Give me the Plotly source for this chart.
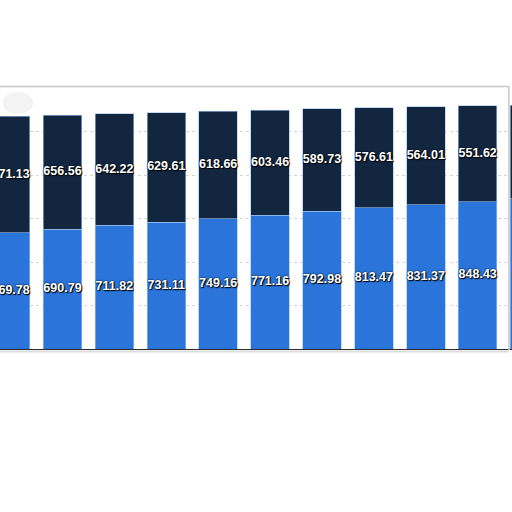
import plotly.graph_objects as go

# stacked values per period (first and last bar are cut by the frame)
periods = [0, 1, 2, 3, 4, 5, 6, 7, 8, 9, 10]
lower_vals = [669.78, 690.79, 711.82, 731.11, 749.16, 771.16, 792.98, 813.47, 831.37, 848.43, 864.90]
upper_vals = [671.13, 656.56, 642.22, 629.61, 618.66, 603.46, 589.73, 576.61, 564.01, 551.62, 539.40]

BLUE = "#2b74d9"
NAVY = "#13263f"

# labels only for the bars whose middle is inside the frame
n_lbl = 10
lower_mid = [v / 2 for v in lower_vals[:n_lbl]]
upper_mid = [l + u / 2 for l, u in zip(lower_vals[:n_lbl], upper_vals[:n_lbl])]

fig = go.Figure()
fig.add_trace(go.Bar(x=periods, y=lower_vals, marker=dict(color=BLUE, line=dict(color="#9cc3f0", width=0.6)),
                     hoverinfo="y"))
fig.add_trace(go.Bar(x=periods, y=upper_vals, marker=dict(color=NAVY, line=dict(color="#9cc3f0", width=0.6)),
                     hoverinfo="y"))

lbl_font = dict(family="Liberation Sans, Arial", size=12.5, color="white", weight="bold",
                shadow="0px 0px 2px #000, 1px 1px 1px #000")
fig.add_trace(go.Scatter(x=periods[:n_lbl], y=lower_mid, mode="text",
                         text=[f"{v:.2f}" for v in lower_vals[:n_lbl]],
                         textfont=lbl_font, hoverinfo="skip"))
fig.add_trace(go.Scatter(x=periods[:n_lbl], y=upper_mid, mode="text",
                         text=[f"{v:.2f}" for v in upper_vals[:n_lbl]],
                         textfont=lbl_font, hoverinfo="skip"))

fig.update_layout(
    barmode="stack", bargap=0.258, showlegend=False,
    width=512, height=512,
    margin=dict(l=0, r=0, t=88, b=163),
    paper_bgcolor="white", plot_bgcolor="white",
)
fig.update_xaxes(range=[-0.204, 9.661], showticklabels=False, ticks="", showgrid=False,
                 showline=True, linecolor="#2b2b2b", linewidth=1.3, zeroline=False)
fig.update_yaxes(range=[0, 1503], dtick=250, showticklabels=False, ticks="", showgrid=True,
                 gridcolor="#d4d4d4", griddash="dot", gridwidth=1, zeroline=False)

# frame of the panel (top edge, right edge, soft shadow under the baseline)
fig.add_shape(type="line", xref="paper", yref="paper", x0=0, x1=0.994, y0=1.006, y1=1.006,
              line=dict(color="#c6c6c6", width=1.5))
fig.add_shape(type="line", xref="paper", yref="paper", x0=0.994, x1=0.994, y0=1.006, y1=-0.004,
              line=dict(color="#c6c6c6", width=1.5))
fig.add_shape(type="line", xref="paper", yref="paper", x0=0, x1=0.994, y0=-0.01, y1=-0.01,
              line=dict(color="#dddddd", width=2))
fig.add_shape(type="circle", xref="paper", yref="paper", x0=0.005, x1=0.065, y0=0.90, y1=0.985,
              fillcolor="rgba(200,200,200,0.22)", line=dict(width=0), layer="below")

# page margin off so the 512px figure sits flush in the window
fig.write_html("out.html", config={"displayModeBar": False},
               post_script="document.body.style.margin='0px';")
